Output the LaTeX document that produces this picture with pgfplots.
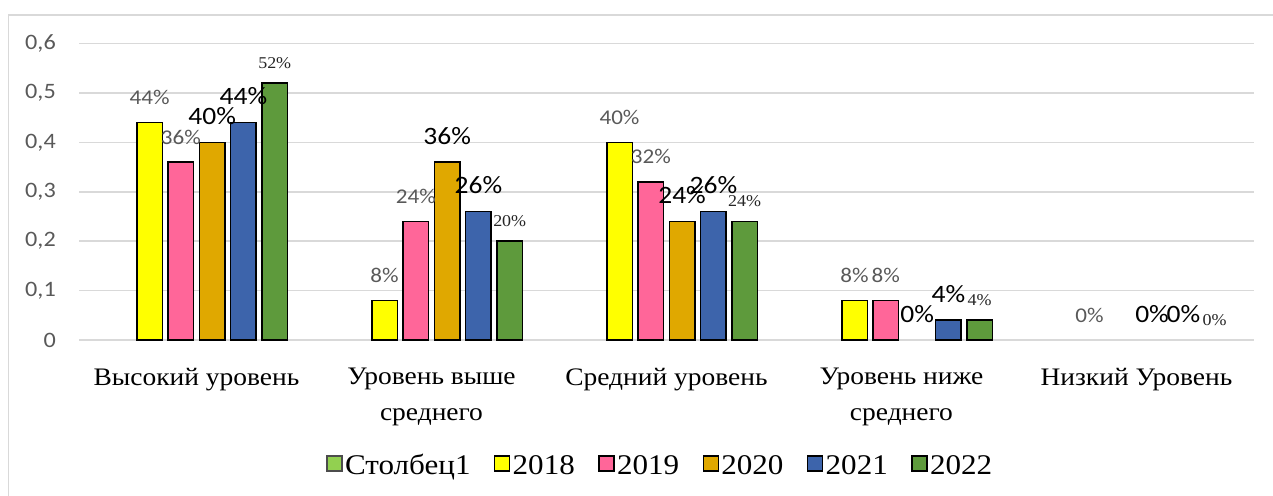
\documentclass[border=0pt]{standalone}
\usepackage{pgfplots}
\pgfplotsset{compat=1.18}
\usepackage{fontspec}
\setmainfont{Liberation Serif}
\newfontfamily\serifS[FakeStretch=1.09]{Liberation Serif}
\newfontfamily\sansS[FakeStretch=1.1]{Carlito}
\definecolor{cA}{HTML}{92D050}
\definecolor{cB}{HTML}{FFFF00}
\definecolor{cC}{HTML}{FF6699}
\definecolor{cD}{HTML}{E0A800}
\definecolor{cE}{HTML}{3D64AB}
\definecolor{cF}{HTML}{5E9A3C}
\definecolor{gridc}{HTML}{D9D9D9}
\definecolor{tgray}{HTML}{595959}
\newcommand\grayfont{\sansS\fontsize{21}{21}\selectfont}
\newcommand\blackfont{\sansS\fontsize{25}{25}\selectfont}
\newcommand\smallserif{\serifS\fontsize{16.5}{16.5}\selectfont}
\newcommand\legfont{\serifS\fontsize{28.5}{30}\selectfont}
\begin{document}
\begin{tikzpicture}[x=1pt,y=1pt]
\useasboundingbox (0,0) rectangle (1273,495);
\draw[gridc, line width=1.5pt] (8.5,-20) -- (8.5,480) -- (1300,480);
\begin{axis}[
  at={(79pt,155pt)}, anchor=south west,
  scale only axis, width=1175pt, height=296.3pt,
  xmin=-0.5, xmax=4.5, ymin=0, ymax=0.6,
  clip=false,
  axis line style={draw=none},
  major tick length=0pt,
  ymajorgrids, grid style={draw=gridc, line width=1.5pt},
  ytick={0,0.1,0.2,0.3,0.4,0.5,0.6},
  yticklabel style={font=\sansS\fontsize{22}{22}\selectfont, text=tgray, anchor=east, inner sep=0pt, xshift=-23pt},
  /pgf/number format/use comma,
  /pgf/number format/fixed,
  /pgf/number format/precision=1,
  /pgf/number format/assume math mode=true,
  xtick={0,1,2,3,4},
  xticklabels={Высокий уровень, {Уровень выше\\среднего}, Средний уровень, {Уровень ниже\\среднего}, Низкий Уровень},
  xticklabel style={font=\serifS\fontsize{25.2}{36}\selectfont, text=black, align=center, anchor=north, inner sep=0pt, yshift=-28pt},
  legend columns=6,
  legend image code/.code={\draw[#1, line width=1.2pt] (0pt,-5.5pt) rectangle (15pt,9.5pt);},
  legend style={draw=none, fill=none, at={(0.4945,-0.4236)}, anchor=center,
    font=\legfont,
    nodes={inner sep=1.5pt, text depth=0.15em},
    /tikz/every odd column/.append style={column sep=1pt},
    /tikz/every even column/.append style={column sep=22pt}},
]
\addlegendimage{fill=cA, draw=black!70}
% bars
\addplot[ybar, bar width=25.5pt, bar shift=-46.95pt, fill=cB, draw=black, line width=1.5pt]
  coordinates {(0,0.44) (1,0.08) (2,0.40) (3,0.08)};
\addplot[ybar, bar width=25.5pt, bar shift=-15.65pt, fill=cC, draw=black, line width=1.5pt]
  coordinates {(0,0.36) (1,0.24) (2,0.32) (3,0.08)};
\addplot[ybar, bar width=25.5pt, bar shift=15.65pt, fill=cD, draw=black, line width=1.5pt]
  coordinates {(0,0.40) (1,0.36) (2,0.24)};
\addplot[ybar, bar width=25.5pt, bar shift=46.95pt, fill=cE, draw=black, line width=1.5pt]
  coordinates {(0,0.44) (1,0.26) (2,0.26) (3,0.04)};
\addplot[ybar, bar width=25.5pt, bar shift=78.25pt, fill=cF, draw=black, line width=1.5pt]
  coordinates {(0,0.52) (1,0.20) (2,0.24) (3,0.04)};
% labels
\addplot[draw=none, mark=none, forget plot, point meta=explicit symbolic, nodes near coords,
  nodes near coords style={anchor=base, inner sep=0pt, xshift=-46.95pt, yshift=18pt, font=\grayfont, text=tgray}]
  coordinates {(0,0.44)[44\%] (1,0.08)[8\%] (2,0.40)[40\%] (3,0.08)[8\%] (4,0)[0\%]};
\addplot[draw=none, mark=none, forget plot, point meta=explicit symbolic, nodes near coords,
  nodes near coords style={anchor=base, inner sep=0pt, xshift=-15.65pt, yshift=18pt, font=\grayfont, text=tgray}]
  coordinates {(0,0.36)[36\%] (1,0.24)[24\%] (2,0.32)[32\%] (3,0.08)[8\%]};
\addplot[draw=none, mark=none, forget plot, point meta=explicit symbolic, nodes near coords,
  nodes near coords style={anchor=base, inner sep=0pt, xshift=15.65pt, yshift=18pt, font=\blackfont, text=black}]
  coordinates {(0,0.40)[40\%] (1,0.36)[36\%] (2,0.24)[24\%] (3,0)[0\%] (4,0)[0\%]};
\addplot[draw=none, mark=none, forget plot, point meta=explicit symbolic, nodes near coords,
  nodes near coords style={anchor=base, inner sep=0pt, xshift=46.95pt, yshift=18pt, font=\blackfont, text=black}]
  coordinates {(0,0.44)[44\%] (1,0.26)[26\%] (2,0.26)[26\%] (3,0.04)[4\%] (4,0)[0\%]};
\addplot[draw=none, mark=none, forget plot, point meta=explicit symbolic, nodes near coords,
  nodes near coords style={anchor=base, inner sep=0pt, xshift=78.25pt, yshift=15pt, font=\smallserif, text=black!85}]
  coordinates {(0,0.52)[52\%] (1,0.20)[20\%] (2,0.24)[24\%] (3,0.04)[4\%] (4,0)[0\%]};
\legend{{\legfont Столбец1},{\legfont 2018},{\legfont 2019},{\legfont 2020},{\legfont 2021},{\legfont 2022}}
\end{axis}
\end{tikzpicture}
\end{document}
